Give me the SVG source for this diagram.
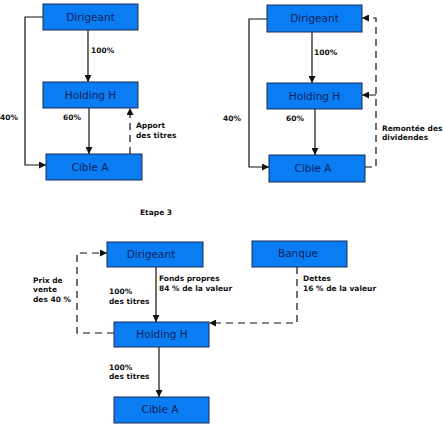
<svg xmlns="http://www.w3.org/2000/svg" width="443" height="426" viewBox="0 0 443 426">
<style>
.box{fill:#0a7df2;stroke:#1c2a55;stroke-width:1}
.bt{font-family:"DejaVu Sans",Verdana,sans-serif;font-size:10.5px;fill:#0f1f5c;text-anchor:middle}
.lb{font-family:"DejaVu Sans",Verdana,sans-serif;font-size:7.5px;font-weight:bold;fill:#111}
.ln{fill:none;stroke:#111;stroke-width:1.2}
.ds{fill:none;stroke:#111;stroke-width:1.2;stroke-dasharray:7,5}
</style>
<defs>
<marker id="ah" viewBox="0 0 10 10" refX="10" refY="5" markerWidth="7" markerHeight="7" orient="auto" markerUnits="userSpaceOnUse">
<path d="M0,0 L10,5 L0,10 z" fill="#111"/>
</marker>
</defs>
<rect width="443" height="426" fill="#fff"/>
<g id="connectors">
<path class="ln" d="M88,30 V82" marker-end="url(#ah)"/>
<path class="ln" d="M43,17 H25 V165 H46" marker-end="url(#ah)"/>
<path class="ln" d="M89,108 V154" marker-end="url(#ah)"/>
<path class="ds" d="M130,154 V108" marker-end="url(#ah)"/>
<path class="ln" d="M312,32 V83" marker-end="url(#ah)"/>
<path class="ln" d="M267,19 H249 V167 H269" marker-end="url(#ah)"/>
<path class="ln" d="M315,109 V155" marker-end="url(#ah)"/>
<path class="ds" d="M365,167 H376 V18 H362" marker-end="url(#ah)"/>
<path class="ds" d="M376,95 H362" stroke-dasharray="2,2" marker-end="url(#ah)"/>
<path class="ln" d="M156,267 V322" marker-end="url(#ah)"/>
<path class="ln" d="M159,347 V397" marker-end="url(#ah)"/>
<path class="ds" d="M114,333 H77 V253 H107" marker-end="url(#ah)"/>
<path class="ds" d="M297,267 V323 H209" marker-end="url(#ah)"/>
</g>
<g id="dirigeant1"><rect class="box" x="43" y="4" width="95" height="26"/><text class="bt" x="90.5" y="21">Dirigeant</text></g>
<g id="holding1"><rect class="box" x="43" y="82" width="95" height="26"/><text class="bt" x="90.5" y="99">Holding H</text></g>
<g id="cible1"><rect class="box" x="46" y="154" width="96" height="26"/><text class="bt" x="90" y="171">Cible A</text></g>
<g id="dirigeant2"><rect class="box" x="267" y="5" width="95" height="27"/><text class="bt" x="314.5" y="22">Dirigeant</text></g>
<g id="holding2"><rect class="box" x="267" y="83" width="95" height="26"/><text class="bt" x="314.5" y="100">Holding H</text></g>
<g id="cible2"><rect class="box" x="269" y="155" width="96" height="27"/><text class="bt" x="313" y="172">Cible A</text></g>
<g id="dirigeant3"><rect class="box" x="107" y="242" width="96" height="25"/><text class="bt" x="151" y="258">Dirigeant</text></g>
<g id="banque"><rect class="box" x="252" y="241" width="95" height="26"/><text class="bt" x="298" y="257">Banque</text></g>
<g id="holding3"><rect class="box" x="114" y="322" width="95" height="25"/><text class="bt" x="162" y="338">Holding H</text></g>
<g id="cible3"><rect class="box" x="114" y="397" width="95" height="26"/><text class="bt" x="160" y="413">Cible A</text></g>
<g id="labels">
<text class="lb" x="91" y="53">100%</text>
<text class="lb" x="0" y="120">40%</text>
<text class="lb" x="63" y="120">60%</text>
<text class="lb" x="136" y="128">Apport</text>
<text class="lb" x="136" y="138">des titres</text>
<text class="lb" x="314" y="55">100%</text>
<text class="lb" x="223" y="121">40%</text>
<text class="lb" x="286" y="121">60%</text>
<text class="lb" x="382" y="131">Remontée des</text>
<text class="lb" x="382" y="140">dividendes</text>
<text class="lb" x="140" y="215">Etape 3</text>
<text class="lb" x="33" y="283">Prix de</text>
<text class="lb" x="33" y="292">vente</text>
<text class="lb" x="33" y="302">des 40 %</text>
<text class="lb" x="109" y="294">100%</text>
<text class="lb" x="109" y="304">des titres</text>
<text class="lb" x="159" y="281">Fonds propres</text>
<text class="lb" x="159" y="291">84 % de la valeur</text>
<text class="lb" x="303" y="281">Dettes</text>
<text class="lb" x="303" y="291">16 % de la valeur</text>
<text class="lb" x="109" y="370">100%</text>
<text class="lb" x="109" y="379">des titres</text>
</g>
</svg>
